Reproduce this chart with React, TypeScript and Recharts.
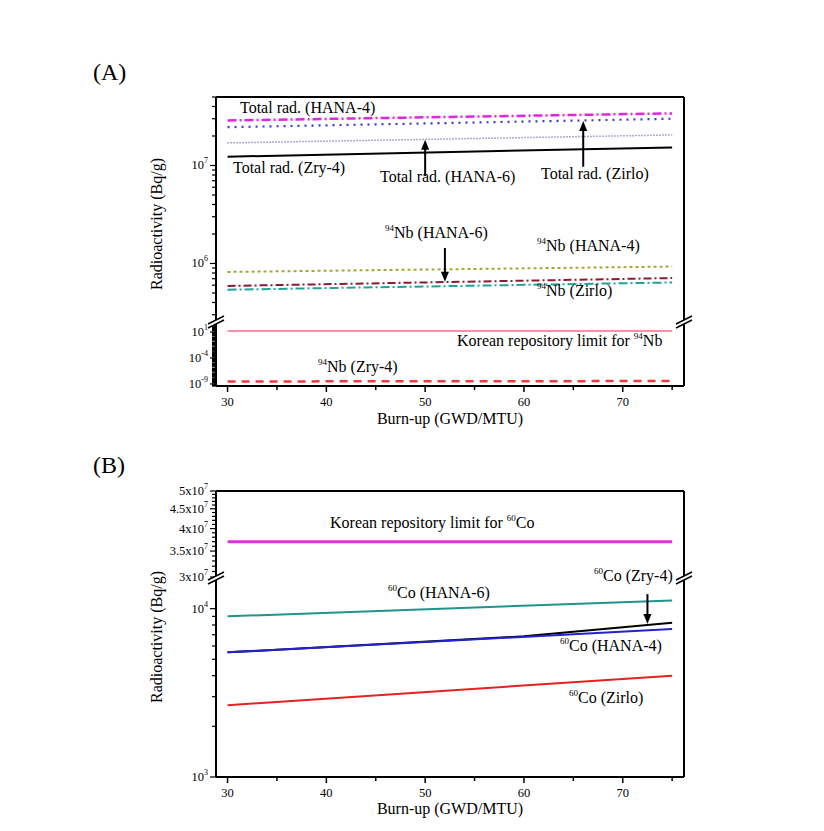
import type { ReactNode } from "react";
import { LineChart, Line, XAxis, YAxis, ReferenceLine } from "recharts";

// burn-up (GWD/MTU)
const burnup = [30, 75];
const burnupCoZry = [30, 60, 75];
const xTicks = [30, 35, 40, 45, 50, 55, 60, 65, 70, 75];
const xLabels = [30, 40, 50, 60, 70];

// (A) total radioactivity, Bq/g
const totalHana4 = [2.88e7, 3.4e7];
const totalZirlo = [2.46e7, 3.0e7];
const totalHana6 = [1.7e7, 2.05e7];
const totalZry4 = [1.23e7, 1.53e7];
// (A) 94Nb
const nbHana4 = [8.2e5, 9.3e5];
const nbHana6 = [5.9e5, 7.1e5];
const nbZirlo = [5.4e5, 6.4e5];
const nbLimit = [15, 15];
const nbZry4 = [3e-9, 3.6e-9];

// (B) 60Co
const coLimit = [3.7e7, 3.7e7];
const coHana6 = [9.0e3, 1.12e4];
const coHana4 = [5.5e3, 7.57e3];
const coZry4 = [5.5e3, 6.85e3, 8.26e3];
const coZirlo = [2.67e3, 4.0e3];

// axis tick labels
const aUpperMajor = [1e6, 1e7];
const aLowerMajor = [1e-9, 1e-4, 1e1];
const bUpperMajor = [3e7, 3.5e7, 4e7, 4.5e7, 5e7];
const bLowerMajor = [1e3, 1e4];

const FONT = "'Liberation Serif', 'DejaVu Serif', serif";
const X_DOMAIN: [number, number] = [28.83, 76.2];
const PLOT_LEFT = 216;
const PLOT_RIGHT = 684;
const AX = 1; // axis thickness reserved in layout

const pts = (xs: number[], ys: number[]) => xs.map((x, i) => ({ x, y: ys[i] }));

function logTicks(lo: number, hi: number) {
  const out: number[] = [];
  for (let d = Math.floor(Math.log10(lo)); d <= Math.ceil(Math.log10(hi)); d++) {
    for (let m = 1; m <= 9; m++) {
      const v = m * Math.pow(10, d);
      if (v >= lo && v <= hi) out.push(v);
    }
  }
  return out;
}

const isMajor = (majors: number[], v: number) => majors.some((m) => Math.abs(m - v) / m < 1e-6);

const decade = (v: number) => (
  <>
    <tspan>10</tspan>
    <tspan dy={-6} fontSize={8}>{Math.round(Math.log10(v))}</tspan>
  </>
);

const mantissa7 = (v: number) => (
  <>
    <tspan>{`${+(v / 1e7).toFixed(1)}x10`}</tspan>
    <tspan dy={-6} fontSize={8}>7</tspan>
  </>
);

function yTick(majors: number[], fmt: (v: number) => ReactNode) {
  return (p: any) => {
    const v = p.payload.value;
    const major = isMajor(majors, v);
    return (
      <g>
        <line x1={p.x} x2={p.x - (major ? 6 : 4)} y1={p.y} y2={p.y} stroke="#000" strokeWidth={1.2} />
        {major && (
          <text x={p.x - 8} y={p.y + 4} textAnchor="end" fontSize={12.5} fontFamily={FONT} fill="#000">
            {fmt(v)}
          </text>
        )}
      </g>
    );
  };
}

const xTick = (p: any) => {
  const v = p.payload.value;
  const major = xLabels.includes(v);
  return (
    <g>
      <line x1={p.x} x2={p.x} y1={p.y} y2={p.y + (major ? 6 : 4)} stroke="#000" strokeWidth={1.5} />
      {major && (
        <text x={p.x} y={p.y + 20} textAnchor="middle" fontSize={12.5} fontFamily={FONT} fill="#000">
          {v}
        </text>
      )}
    </g>
  );
};

const arrow = (p: any) => {
  const { x1, y1, x2, y2 } = p;
  const dir = y2 > y1 ? 1 : -1;
  return (
    <g>
      <line x1={x1} y1={y1} x2={x2} y2={y2 - dir * 6} stroke="#000" strokeWidth={2} />
      <polygon points={`${x2},${y2} ${x2 - 4},${y2 - dir * 10} ${x2 + 4},${y2 - dir * 10}`} fill="#000" />
    </g>
  );
};

interface SectionProps {
  plotTop: number;
  plotBottom: number;
  domain: [number, number];
  ticks: number[];
  majors: number[];
  fmt: (v: number) => ReactNode;
  bottom?: boolean;
  children: ReactNode;
}

function Section({ plotTop, plotBottom, domain, ticks, majors, fmt, bottom, children }: SectionProps) {
  const pad = 10;
  const extra = bottom ? 40 : 10;
  const height = plotBottom - plotTop + pad + extra;
  const axisLine = { stroke: "#000", strokeWidth: 2 };
  return (
    <div style={{ position: "absolute", left: 0, top: plotTop - pad }}>
      <LineChart
        width={824}
        height={height}
        margin={{
          top: bottom ? pad : pad - AX,
          bottom: bottom ? extra - AX : extra,
          left: PLOT_LEFT - AX,
          right: 824 - PLOT_RIGHT - AX,
        }}
      >
        {bottom ? (
          <XAxis
            type="number"
            dataKey="x"
            domain={X_DOMAIN}
            allowDataOverflow
            ticks={xTicks}
            interval={0}
            height={AX}
            tickSize={0}
            tickMargin={0}
            tickLine={false}
            tick={xTick}
            axisLine={axisLine}
          />
        ) : (
          <XAxis
            type="number"
            dataKey="x"
            orientation="top"
            domain={X_DOMAIN}
            allowDataOverflow
            height={AX}
            tick={false}
            tickLine={false}
            axisLine={axisLine}
          />
        )}
        <YAxis
          yAxisId="l"
          type="number"
          scale="log"
          domain={domain}
          allowDataOverflow
          ticks={ticks}
          interval={0}
          width={AX}
          tickSize={0}
          tickMargin={0}
          tickLine={false}
          tick={yTick(majors, fmt)}
          axisLine={axisLine}
        />
        <YAxis
          yAxisId="r"
          orientation="right"
          type="number"
          scale="log"
          domain={domain}
          allowDataOverflow
          width={AX}
          tick={false}
          tickLine={false}
          axisLine={axisLine}
        />
        {children}
      </LineChart>
    </div>
  );
}

function Sup({ children }: { children: ReactNode }) {
  return <span style={{ fontSize: 9, position: "relative", top: -7, color: "#000" }}>{children}</span>;
}

function Note({ left, top, children, size = 16 }: { left: number; top: number; children: ReactNode; size?: number }) {
  return (
    <div
      style={{
        position: "absolute",
        left,
        top,
        fontFamily: FONT,
        fontSize: size,
        lineHeight: 1,
        whiteSpace: "nowrap",
        color: "#000",
      }}
    >
      {children}
    </div>
  );
}

function YTitle({ cy }: { cy: number }) {
  return (
    <div
      style={{
        position: "absolute",
        left: 157 - 100,
        top: cy - 9,
        width: 200,
        height: 18,
        textAlign: "center",
        fontFamily: FONT,
        fontSize: 16,
        lineHeight: "18px",
        transform: "rotate(-90deg)",
      }}
    >
      Radioactivity (Bq/g)
    </div>
  );
}

function XTitle({ top }: { top: number }) {
  return (
    <div
      style={{
        position: "absolute",
        left: PLOT_LEFT,
        width: PLOT_RIGHT - PLOT_LEFT,
        top,
        textAlign: "center",
        fontFamily: FONT,
        fontSize: 16,
        lineHeight: 1,
      }}
    >
      Burn-up (GWD/MTU)
    </div>
  );
}

function BreakMark({ x, y }: { x: number; y: number }) {
  return (
    <svg style={{ position: "absolute", left: x - 9, top: y - 9 }} width={18} height={18}>
      <polygon points="1,11 17,3 17,7 1,15" fill="#fff" />
      <line x1={1} y1={11} x2={17} y2={3} stroke="#000" strokeWidth={1.5} />
      <line x1={1} y1={15} x2={17} y2={7} stroke="#000" strokeWidth={1.5} />
    </svg>
  );
}

const line = (key: string, xs: number[], ys: number[], stroke: string, width: number, dash?: string) => (
  <Line
    key={key}
    yAxisId="l"
    data={pts(xs, ys)}
    dataKey="y"
    type="linear"
    stroke={stroke}
    strokeWidth={width}
    strokeDasharray={dash}
    dot={false}
    activeDot={false}
    isAnimationActive={false}
  />
);

export default function App() {
  const aUpperDomain: [number, number] = [2.65e5, 5e7];
  const aLowerDomain: [number, number] = [4e-10, 3.5e2];
  const bUpperDomain: [number, number] = [3e7, 5e7];
  const bLowerDomain: [number, number] = [1e3, 1.48e4];

  const bUpperTicks: number[] = [];
  for (let v = 30; v <= 50; v++) bUpperTicks.push(v * 1e6);

  return (
    <div style={{ position: "absolute", left: 0, top: 0, width: 824, height: 831, background: "#fff" }}>
      <Note left={93} top={60} size={24}>(A)</Note>
      <Note left={93} top={453} size={24}>(B)</Note>

      {/* (A) upper: total radioactivity and 94Nb */}
      <Section
        plotTop={97}
        plotBottom={320}
        domain={aUpperDomain}
        ticks={logTicks(aUpperDomain[0], aUpperDomain[1])}
        majors={aUpperMajor}
        fmt={decade}
      >
        {line("tZry", burnup, totalZry4, "#000", 2)}
        {line("tH6", burnup, totalHana6, "#5a5ab0", 1.5, "1 2")}
        {line("tZ", burnup, totalZirlo, "#3a3ac8", 2.2, "2 5")}
        {line("tH4", burnup, totalHana4, "#e026e0", 2.5, "9 3 2 3")}
        {line("nH4", burnup, nbHana4, "#a6a638", 2, "3 3")}
        {line("nH6", burnup, nbHana6, "#8c1a30", 2, "8 3 2 3")}
        {line("nZ", burnup, nbZirlo, "#1ea596", 2, "9 3 2 3")}
        <ReferenceLine yAxisId="l" segment={[{ x: 50, y: 7.8e6 }, { x: 50, y: 1.83e7 }]} shape={arrow} />
        <ReferenceLine yAxisId="l" segment={[{ x: 66, y: 9.7e6 }, { x: 66, y: 2.85e7 }]} shape={arrow} />
        <ReferenceLine yAxisId="l" segment={[{ x: 52, y: 1.44e6 }, { x: 52, y: 6.5e5 }]} shape={arrow} />
      </Section>

      {/* (A) lower: 94Nb limit and Zry-4 */}
      <Section
        plotTop={324}
        plotBottom={386}
        domain={aLowerDomain}
        ticks={logTicks(aLowerDomain[0], aLowerDomain[1])}
        majors={aLowerMajor}
        fmt={decade}
        bottom
      >
        {line("nLim", burnup, nbLimit, "#ff6a8a", 1.5)}
        {line("nZry", burnup, nbZry4, "#f03a3a", 2.5, "8 6")}
      </Section>

      <BreakMark x={PLOT_LEFT} y={322} />
      <BreakMark x={PLOT_RIGHT} y={322} />

      <Note left={240} top={100}>Total rad. (HANA-4)</Note>
      <Note left={233} top={160}>Total rad. (Zry-4)</Note>
      <Note left={380} top={169}>Total rad. (HANA-6)</Note>
      <Note left={541} top={166}>Total rad. (Zirlo)</Note>
      <Note left={385} top={225}><Sup>94</Sup>Nb (HANA-6)</Note>
      <Note left={537} top={238}><Sup>94</Sup>Nb (HANA-4)</Note>
      <Note left={537} top={283}><Sup>94</Sup>Nb (Zirlo)</Note>
      <Note left={457} top={333}>Korean repository limit for <Sup>94</Sup>Nb</Note>
      <Note left={318} top={359}><Sup>94</Sup>Nb (Zry-4)</Note>

      <YTitle cy={224} />
      <XTitle top={411} />

      {/* (B) upper: 60Co limit */}
      <Section
        plotTop={491}
        plotBottom={577}
        domain={bUpperDomain}
        ticks={bUpperTicks}
        majors={bUpperMajor}
        fmt={mantissa7}
      >
        {line("cLim", burnup, coLimit, "#e030e0", 3)}
      </Section>

      {/* (B) lower: 60Co per alloy */}
      <Section
        plotTop={580}
        plotBottom={777}
        domain={bLowerDomain}
        ticks={logTicks(bLowerDomain[0], bLowerDomain[1])}
        majors={bLowerMajor}
        fmt={decade}
        bottom
      >
        {line("cH6", burnup, coHana6, "#1f938c", 2)}
        {line("cZry", burnupCoZry, coZry4, "#000", 2)}
        {line("cH4", burnup, coHana4, "#2222d0", 2)}
        {line("cZ", burnup, coZirlo, "#e52222", 2)}
        <ReferenceLine yAxisId="l" segment={[{ x: 72.5, y: 1.22e4 }, { x: 72.5, y: 8.1e3 }]} shape={arrow} />
      </Section>

      <BreakMark x={PLOT_LEFT} y={578} />
      <BreakMark x={PLOT_RIGHT} y={578} />

      <Note left={330} top={515}>Korean repository limit for <Sup>60</Sup>Co</Note>
      <Note left={594} top={568}><Sup>60</Sup>Co (Zry-4)</Note>
      <Note left={388} top={585}><Sup>60</Sup>Co (HANA-6)</Note>
      <Note left={560} top={638}><Sup>60</Sup>Co (HANA-4)</Note>
      <Note left={569} top={690}><Sup>60</Sup>Co (Zirlo)</Note>

      <YTitle cy={637} />
      <XTitle top={801} />
    </div>
  );
}
